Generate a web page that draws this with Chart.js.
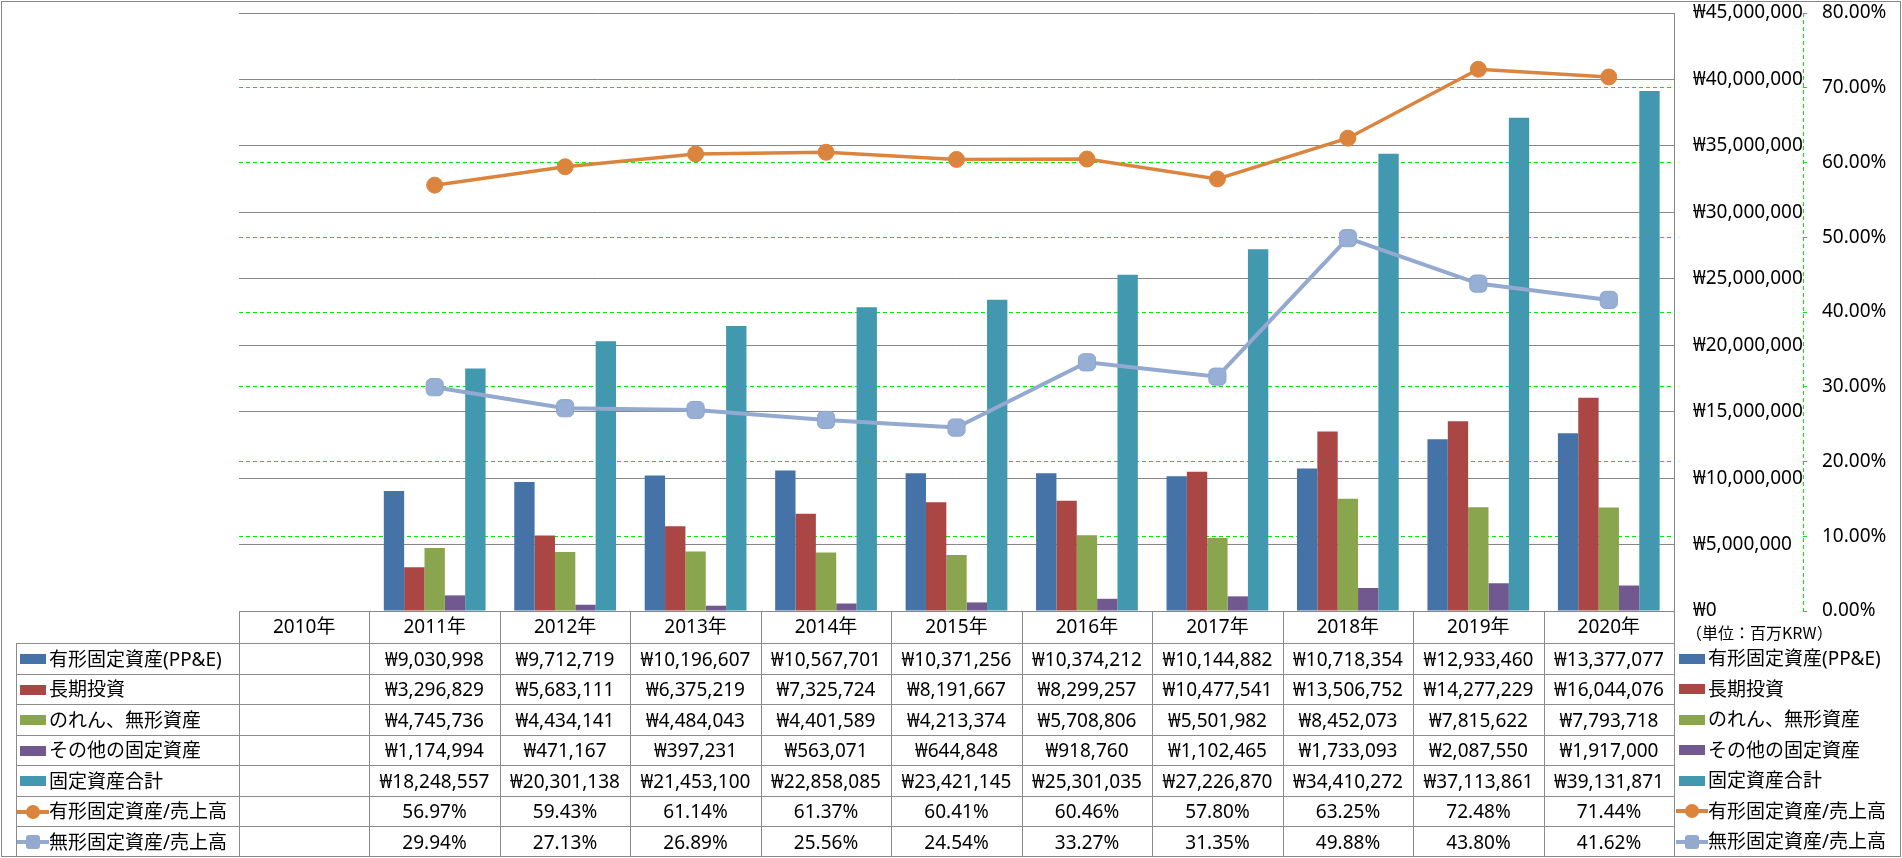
<!DOCTYPE html>
<html lang="ja">
<head>
<meta charset="utf-8">
<title>固定資産の推移</title>
<script src="https://cdn.jsdelivr.net/npm/chart.js@4.4.1/dist/chart.umd.min.js"></script>
<style>
  html, body { margin: 0; padding: 0; background: #fff; }
  #wrap {
    position: relative; width: 1902px; height: 858px; overflow: hidden;
    font-family: "Noto Sans", "Noto Sans CJK JP", sans-serif; font-size: 19px; color: #000;
  }
  #chart { position: absolute; left: 0; top: 0; }
  .frame {
    position: absolute; left: 1px; top: 1px; width: 1900px; height: 856px;
    border: 1px solid #868686; box-sizing: border-box; pointer-events: none;
  }
  .cell {
    position: absolute; box-sizing: border-box; display: flex; align-items: center;
    justify-content: center; white-space: nowrap; line-height: 1;
  }
  .bl { border-left: 1px solid #8c8c8c; }
  .bt { border-top: 1px solid #8c8c8c; }
  .name { justify-content: flex-start; padding-left: 3px; }
  .vline { position: absolute; width: 0; border-left: 1px solid #8c8c8c; }
  .key { position: relative; display: inline-block; width: 26px; height: 18px; margin-right: 3px; flex: none; }
  .key .bar { position: absolute; left: 0; top: 4px; width: 26px; height: 10px; }
  .key .ln { position: absolute; left: -3px; top: 7px; width: 32px; height: 4px; }
  .key .mk { position: absolute; left: 6px; top: 2px; width: 14px; height: 14px; }
  .unit { position: absolute; font-size: 16px; line-height: 1; font-family: "Noto Sans CJK JP", sans-serif; }
</style>
</head>
<body>
<div id="wrap">
  <canvas id="chart" width="1902" height="858"></canvas>
  <div class="frame"></div>
</div>
<script>
// カテゴリ(年)
const years = ['2010年', '2011年', '2012年', '2013年', '2014年', '2015年', '2016年', '2017年', '2018年', '2019年', '2020年'];

// 金額系列 (百万KRW)
const ppe = [null, 9030998, 9712719, 10196607, 10567701, 10371256, 10374212, 10144882, 10718354, 12933460, 13377077];
const longInvest = [null, 3296829, 5683111, 6375219, 7325724, 8191667, 8299257, 10477541, 13506752, 14277229, 16044076];
const intangible = [null, 4745736, 4434141, 4484043, 4401589, 4213374, 5708806, 5501982, 8452073, 7815622, 7793718];
const otherFixed = [null, 1174994, 471167, 397231, 563071, 644848, 918760, 1102465, 1733093, 2087550, 1917000];
const totalFixed = [null, 18248557, 20301138, 21453100, 22858085, 23421145, 25301035, 27226870, 34410272, 37113861, 39131871];

// 比率系列 (%)
const tangibleRatio = [null, 56.97, 59.43, 61.14, 61.37, 60.41, 60.46, 57.80, 63.25, 72.48, 71.44];
const intangibleRatio = [null, 29.94, 27.13, 26.89, 25.56, 24.54, 33.27, 31.35, 49.88, 43.80, 41.62];

const seriesNames = ['有形固定資産(PP&E)', '長期投資', 'のれん、無形資産', 'その他の固定資産', '固定資産合計', '有形固定資産/売上高', '無形固定資産/売上高'];

// 軸の目盛り
const moneyMax = 45000000;
const moneyStep = 5000000;
const pctMax = 80;
const pctStep = 10;
const unitLabel = '（単位：百万KRW）';

const colors = ['#4572A7', '#AA4643', '#89A54E', '#71588F', '#4198AF', '#DB843D', '#93A9CF'];

const barSeries = [ppe, longInvest, intangible, otherFixed, totalFixed];
const lineSeries = [tangibleRatio, intangibleRatio];

function won(v) {
  return '₩' + Number(v).toLocaleString('en-US');
}
function pct(v) {
  return Number(v).toFixed(2) + '%';
}

Chart.defaults.font.family = '"Noto Sans", "Noto Sans CJK JP", sans-serif';
Chart.defaults.font.size = 19;
Chart.defaults.color = '#000';

// 第2軸の点線を描く
const dashedAxisLine = {
  id: 'dashedAxisLine',
  afterDraw(chart) {
    const s = chart.scales.y1;
    const ctx = chart.ctx;
    const xPos = Math.round(s.left) + 0.5;
    ctx.save();
    ctx.strokeStyle = '#00ee00';
    ctx.lineWidth = 1;
    ctx.setLineDash([4, 3]);
    ctx.beginPath();
    ctx.moveTo(xPos, s.top);
    ctx.lineTo(xPos, s.bottom);
    ctx.stroke();
    ctx.restore();
  }
};

// 縦軸の上下余白を消して、プロット領域を上まで使う
function fixAxis(width) {
  return (s) => {
    s.width = width;
    s.paddingTop = 0;
    s.paddingBottom = 0;
  };
}

const datasets = [];
barSeries.forEach((data, i) => {
  datasets.push({
    type: 'bar',
    label: seriesNames[i],
    data: data,
    backgroundColor: colors[i],
    yAxisID: 'y',
    order: 2,
    categoryPercentage: 0.78,
    barPercentage: 1
  });
});
datasets.push({
  type: 'line',
  label: seriesNames[5],
  data: tangibleRatio,
  borderColor: colors[5],
  backgroundColor: colors[5],
  borderWidth: 3.5,
  pointStyle: 'circle',
  pointRadius: 8,
  pointBorderWidth: 1,
  tension: 0,
  yAxisID: 'y1',
  order: 1
});
datasets.push({
  type: 'line',
  label: seriesNames[6],
  data: intangibleRatio,
  borderColor: colors[6],
  backgroundColor: '#97AED5',
  pointBorderColor: '#8EA5CF',
  borderWidth: 4,
  pointStyle: 'rectRounded',
  pointRadius: 10,
  pointBorderWidth: 1,
  tension: 0,
  yAxisID: 'y1',
  order: 0
});

const chart = new Chart(document.getElementById('chart'), {
  type: 'bar',
  data: { labels: years, datasets: datasets },
  plugins: [dashedAxisLine],
  options: {
    responsive: false,
    animation: false,
    events: [],
    layout: { padding: { top: 13, left: 239, right: 4, bottom: 0 } },
    plugins: {
      legend: { display: false },
      tooltip: { enabled: false }
    },
    scales: {
      x: {
        grid: { display: false, drawTicks: false },
        border: { color: '#868686' },
        ticks: { padding: 5, maxRotation: 0, autoSkip: false },
        afterFit: (s) => { s.height = 247; }
      },
      y: {
        position: 'right',
        weight: 0,
        min: 0,
        max: moneyMax,
        grid: { color: '#868686', drawTicks: false },
        border: { color: '#868686' },
        ticks: { stepSize: moneyStep, padding: 19, callback: (v) => won(v) },
        afterFit: fixAxis(129)
      },
      y1: {
        position: 'right',
        weight: 1,
        min: 0,
        max: pctMax,
        grid: {
          color: (c) => (c.tick && (c.tick.value === pctMax || c.tick.value === 0)) ? 'rgba(0,0,0,0)' : '#00ee00',
          tickColor: '#00ee00',
          tickLength: 4,
          drawOnChartArea: true
        },
        border: { display: false, dash: [4, 3] },
        ticks: { stepSize: pctStep, padding: 15, callback: (v) => pct(v) },
        afterFit: fixAxis(95)
      }
    }
  }
});

// 凡例キーを作る
function makeKey(i) {
  const k = document.createElement('span');
  k.className = 'key';
  if (i < barSeries.length) {
    const b = document.createElement('span');
    b.className = 'bar';
    b.style.background = colors[i];
    k.appendChild(b);
  } else {
    const l = document.createElement('span');
    l.className = 'ln';
    l.style.background = colors[i];
    const m = document.createElement('span');
    m.className = 'mk';
    m.style.background = colors[i];
    m.style.borderRadius = i === 5 ? '50%' : '3px';
    k.appendChild(l);
    k.appendChild(m);
  }
  return k;
}

function addCell(left, top, width, height, cls, content) {
  const d = document.createElement('div');
  d.className = 'cell ' + cls;
  d.style.left = left + 'px';
  d.style.top = top + 'px';
  d.style.width = width + 'px';
  d.style.height = height + 'px';
  if (content) d.appendChild(content);
  document.getElementById('wrap').appendChild(d);
  return d;
}

// データテーブル
function buildTable(chart) {
  const wrap = document.getElementById('wrap');
  const x = chart.scales.x;
  const area = chart.chartArea;
  const colW = x.getPixelForValue(1) - x.getPixelForValue(0);
  const headTop = Math.round(area.bottom);
  const headH = 32;
  const rowH = 30.5;
  const tableLeft = 16;
  const bottom = 857;

  const colLeft = (i) => Math.round(x.getPixelForValue(i) - colW / 2);

  // 列の縦線
  for (let i = 0; i <= years.length; i++) {
    const v = document.createElement('div');
    v.className = 'vline';
    v.style.left = (i === years.length ? Math.round(area.right) : colLeft(i)) + 'px';
    v.style.top = headTop + 'px';
    v.style.height = (bottom - headTop) + 'px';
    wrap.appendChild(v);
  }

  const rows = barSeries.concat(lineSeries);
  rows.forEach((data, r) => {
    const top = Math.round(headTop + headH + r * rowH);
    const nextTop = r === rows.length - 1 ? bottom : Math.round(headTop + headH + (r + 1) * rowH);
    const h = nextTop - top;
    const fmt = r < barSeries.length ? won : pct;

    // 行見出し
    const nameBox = document.createElement('span');
    nameBox.style.display = 'flex';
    nameBox.style.alignItems = 'center';
    nameBox.appendChild(makeKey(r));
    nameBox.appendChild(document.createTextNode(seriesNames[r]));
    addCell(tableLeft, top, colLeft(0) - tableLeft, h, 'bl bt name', nameBox);

    // 値
    data.forEach((v, i) => {
      const right = i === years.length - 1 ? Math.round(area.right) : colLeft(i + 1);
      const t = document.createElement('span');
      t.textContent = v === null ? '' : fmt(v);
      addCell(colLeft(i), top, right - colLeft(i), h, 'bt', t);
    });

    // 右側の凡例
    const leg = document.createElement('span');
    leg.style.display = 'flex';
    leg.style.alignItems = 'center';
    leg.appendChild(makeKey(r));
    leg.appendChild(document.createTextNode(seriesNames[r]));
    addCell(Math.round(area.right) + 2, top, 1902 - Math.round(area.right) - 4, h, 'name', leg);
  });

  const u = document.createElement('div');
  u.className = 'unit';
  u.textContent = unitLabel;
  u.style.left = (Math.round(area.right) + 12) + 'px';
  u.style.top = (headTop + 13) + 'px';
  wrap.appendChild(u);
}

buildTable(chart);
</script>
</body>
</html>
